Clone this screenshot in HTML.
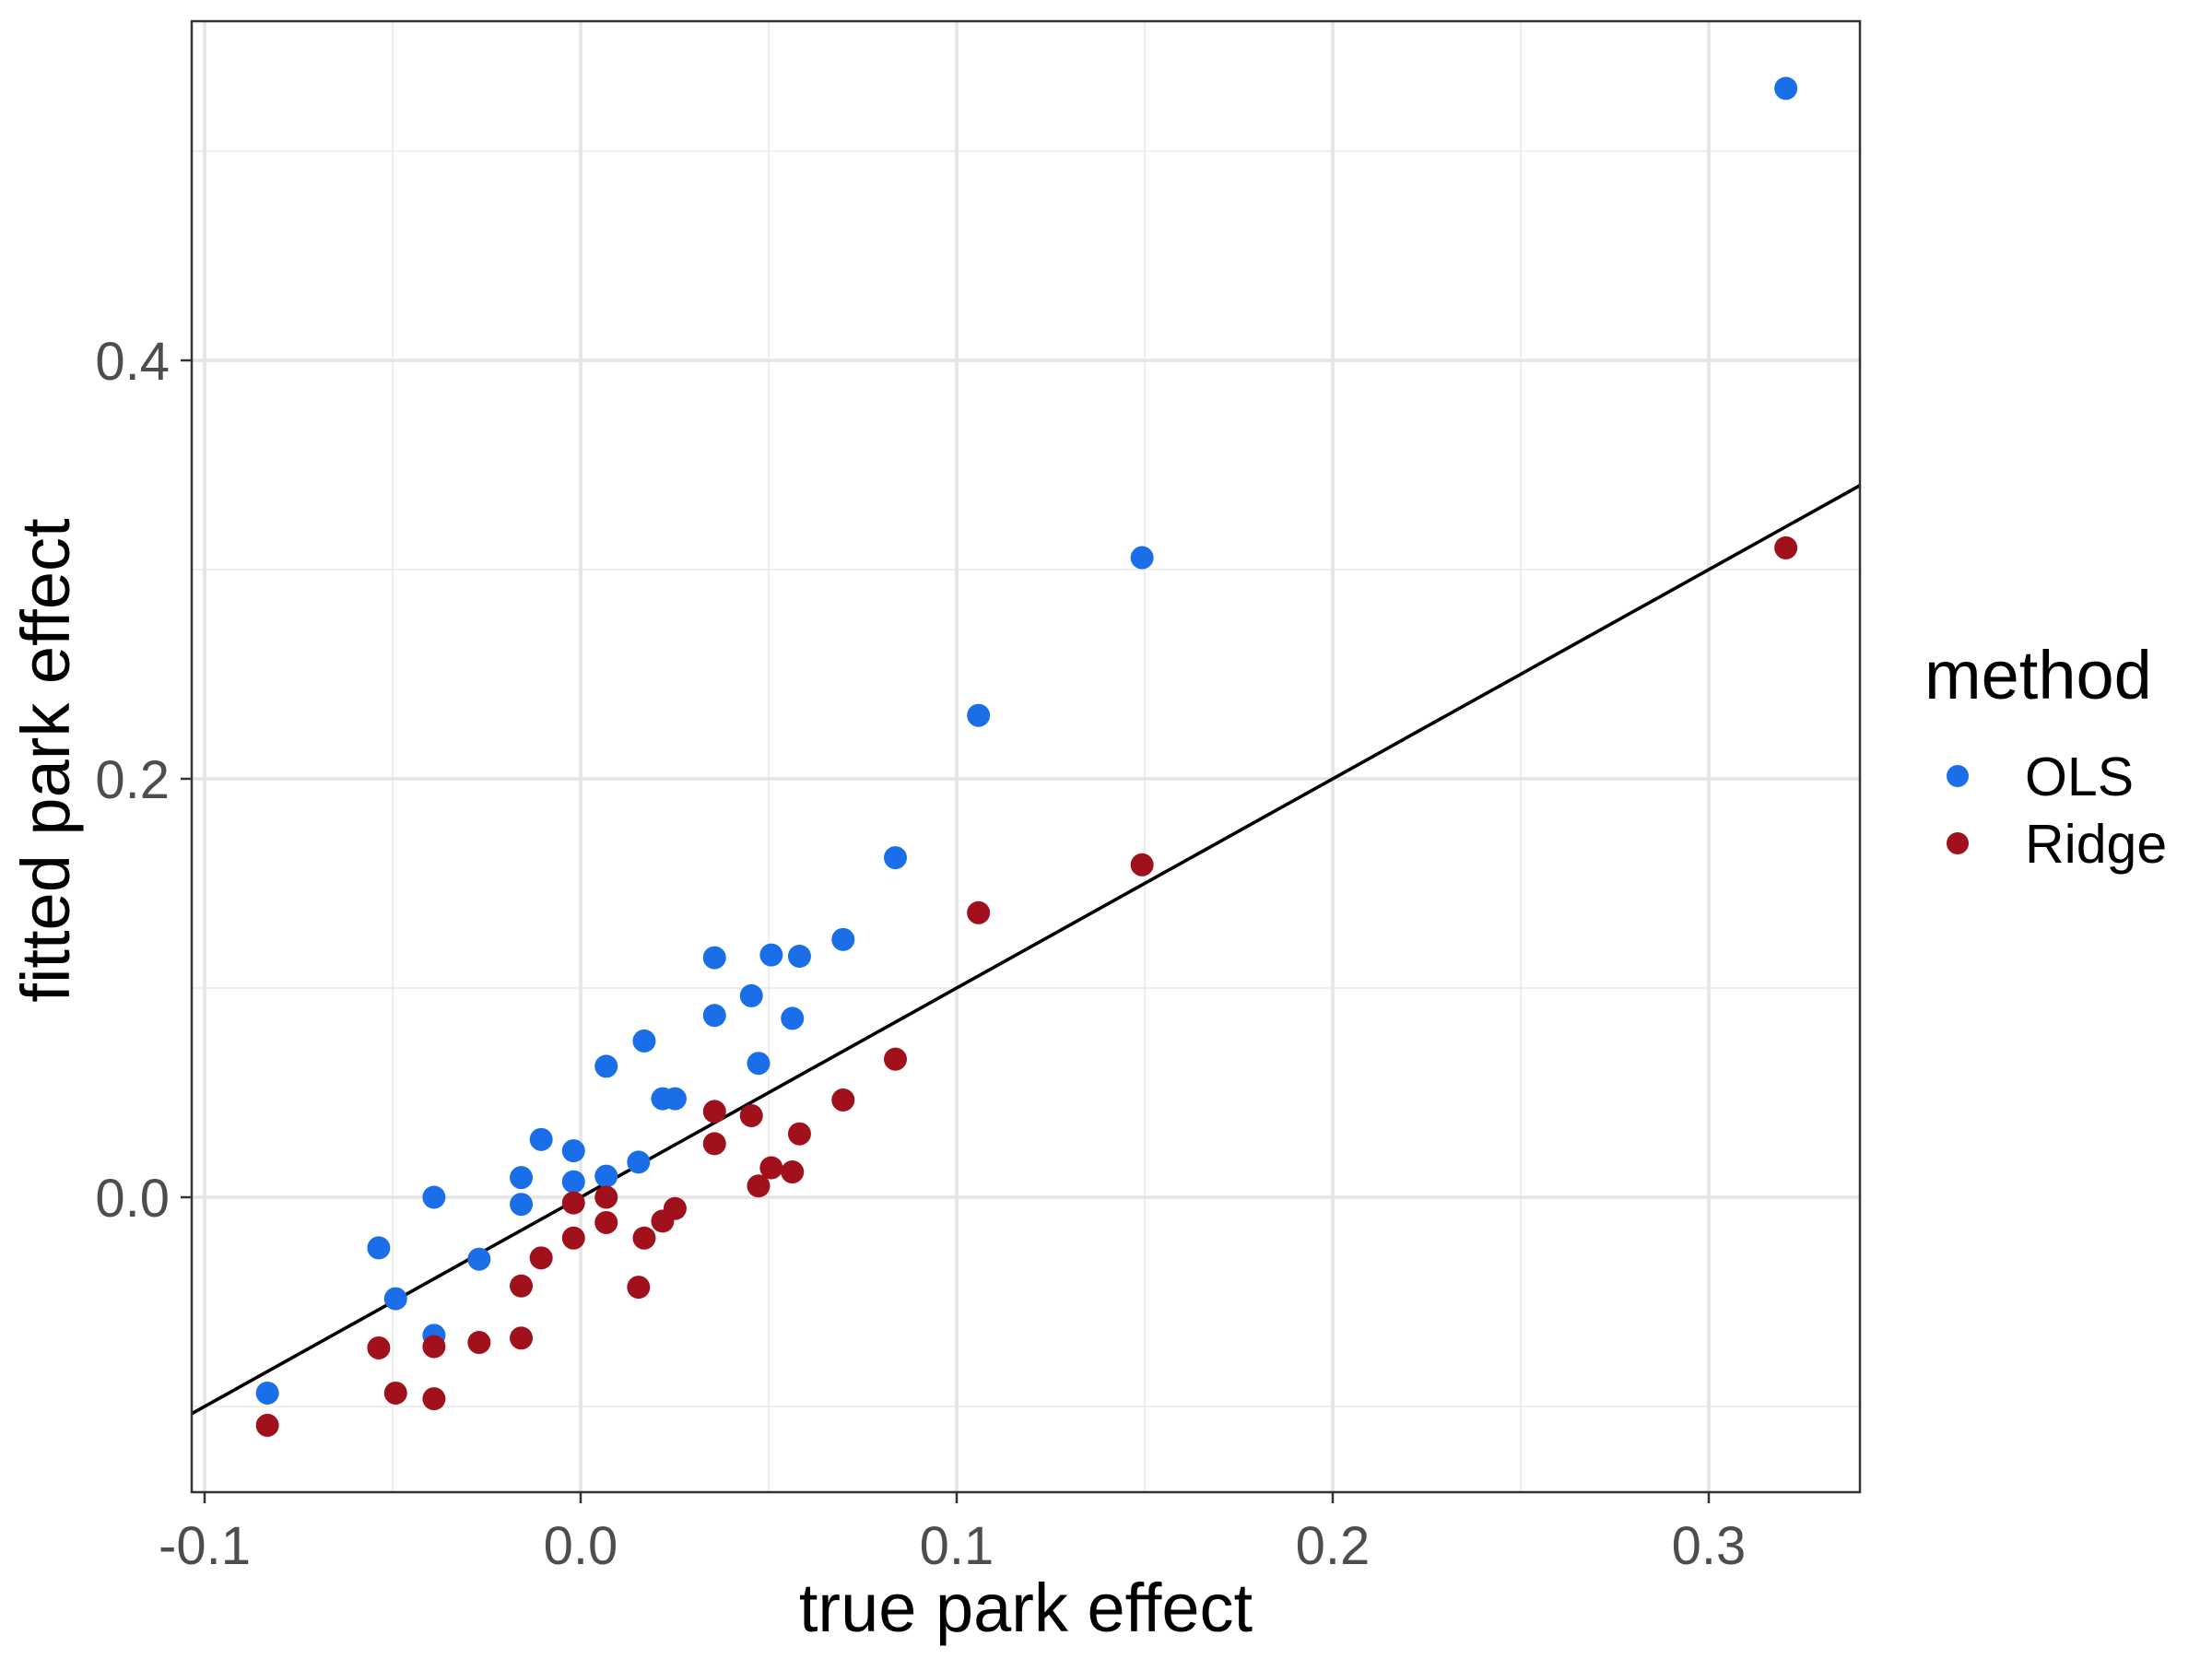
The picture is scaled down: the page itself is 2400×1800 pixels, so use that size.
<!DOCTYPE html>
<html><head><meta charset="utf-8"><style>body{margin:0;background:#fff}svg{display:block}text{font-family:"Liberation Sans",Arial,sans-serif}</style></head>
<body>
<svg id="chart" width="2400" height="1800" viewBox="0 0 2400 1800" xmlns="http://www.w3.org/2000/svg">
<g id="grid"></g>
<g id="marks"></g>
<rect x="208" y="23" width="1810" height="1596" fill="none" stroke="#333" stroke-width="2.5"/>
<g id="axes"></g>
<text x="1113" y="1770" font-size="74" text-anchor="middle" fill="#000">true park effect</text>
<text transform="translate(75,825) rotate(-90)" font-size="74" text-anchor="middle" fill="#000">fitted park effect</text>
<g>
<text x="2088" y="758" font-size="74" fill="#000">method</text>
<circle cx="2124" cy="842" r="12" fill="#1a6fe8"/>
<text x="2197" y="863" font-size="59" fill="#000">OLS</text>
<circle cx="2124" cy="915" r="12" fill="#a0111c"/>
<text x="2197" y="936" font-size="59" fill="#000">Ridge</text>
</g>
</svg>
<script>
const trueEffect = [-0.0833,-0.0537,-0.0492,-0.039,-0.039,-0.027,-0.0158,-0.0158,-0.0105,-0.0019,-0.0019,0.0068,0.0068,0.0154,0.0169,0.0218,0.0251,0.0356,0.0356,0.0454,0.0473,0.0507,0.0563,0.0582,0.0698,0.0837,0.1058,0.1493,0.3205];
const olsFit = [-0.0936,-0.0242,-0.0485,0.0,-0.066,-0.0296,0.0094,-0.0034,0.0276,0.0074,0.0222,0.0626,0.0101,0.0168,0.0747,0.0471,0.0471,0.1145,0.0869,0.0963,0.064,0.1158,0.0855,0.1152,0.1232,0.1623,0.2303,0.3057,0.53];
const ridgeFit = [-0.109,-0.072,-0.0936,-0.0963,-0.0714,-0.0694,-0.0424,-0.0673,-0.029,-0.0027,-0.0195,0.0,-0.0121,-0.043,-0.0195,-0.0114,-0.0054,0.041,0.0256,0.039,0.0054,0.0141,0.0121,0.0303,0.0465,0.066,0.136,0.1589,0.3104];
const xTicks = [-0.1,0.0,0.1,0.2,0.3];
const xTickLabels = ["-0.1","0.0","0.1","0.2","0.3"];
const xMinor = [-0.05,0.05,0.15,0.25];
const yTicks = [0.0,0.2,0.4];
const yTickLabels = ["0.0","0.2","0.4"];
const yMinor = [-0.1,0.1,0.3,0.5];

const NS="http://www.w3.org/2000/svg";
const L=208,R=2018,T=23,B=1619;
function sx(v){return 630+v*4080;}
function sy(v){return 1299-v*2270;}
function mk(tag,attrs,parent){const e=document.createElementNS(NS,tag);for(const k in attrs)e.setAttribute(k,attrs[k]);parent.appendChild(e);return e;}
const grid=document.getElementById('grid'),marks=document.getElementById('marks'),axes=document.getElementById('axes');
mk('rect',{x:L,y:T,width:R-L,height:B-T,fill:'#fff'},grid);
xMinor.forEach(v=>{const e=mk('line',{x1:sx(v),x2:sx(v),y1:T,y2:B,stroke:'#ebebeb','stroke-width':1.8},grid);

});
yMinor.forEach(v=>{const e=mk('line',{x1:L,x2:R,y1:sy(v),y2:sy(v),stroke:'#ebebeb','stroke-width':1.8},grid);

});
xTicks.forEach((v,i)=>{const e=mk('line',{x1:sx(v),x2:sx(v),y1:T,y2:B,stroke:'#e6e6e6','stroke-width':3.8},grid);


const t=mk('line',{x1:sx(v),x2:sx(v),y1:B,y2:B+12,stroke:'#333','stroke-width':2.5},axes);


const l=mk('text',{x:sx(v),y:1697,'font-size':58,'text-anchor':'middle',fill:'#4d4d4d'},axes);l.textContent=xTickLabels[i];

});
yTicks.forEach((v,i)=>{const e=mk('line',{x1:L,x2:R,y1:sy(v),y2:sy(v),stroke:'#e6e6e6','stroke-width':3.8},grid);


const t=mk('line',{x1:L-12,x2:L,y1:sy(v),y2:sy(v),stroke:'#333','stroke-width':2.5},axes);


const l=mk('text',{x:184,y:sy(v)+21,'font-size':58,'text-anchor':'end',fill:'#4d4d4d'},axes);l.textContent=yTickLabels[i];

});
const x0=(L-630)/4080,x1=(R-630)/4080;
const ref=mk('line',{x1:sx(x0),y1:sy(x0),x2:sx(x1),y2:sy(x1),stroke:'#000','stroke-width':3.6},marks);


trueEffect.forEach((v,i)=>{
const c=mk('circle',{cx:sx(v),cy:sy(olsFit[i]),r:12.5,fill:'#1a6fe8'},marks);


});
trueEffect.forEach((v,i)=>{
const c=mk('circle',{cx:sx(v),cy:sy(ridgeFit[i]),r:12.5,fill:'#a0111c'},marks);


});
</script>
</body></html>
